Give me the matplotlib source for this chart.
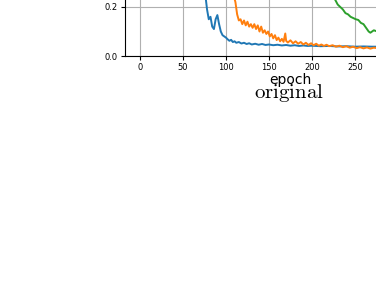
import matplotlib
matplotlib.use('Agg')
import matplotlib.pyplot as plt

plt.rcParams['mathtext.fontset'] = 'cm'

# loss curves (only the lower-right corner is visible)
blue_epoch = [60, 70, 76, 78, 80, 82, 84, 86, 88, 90, 92, 94, 96, 98, 100,
              102, 104, 106, 108, 110, 112, 115, 118, 121, 124, 127, 130, 134,
              138, 142, 146, 150, 155, 160, 165, 170, 175, 180, 185, 190, 195,
              200, 210, 220, 230, 240, 250, 260, 270, 280]
blue_loss = [0.60, 0.40, 0.25, 0.19, 0.15, 0.16, 0.12, 0.11, 0.15, 0.167,
             0.13, 0.10, 0.085, 0.08, 0.075, 0.068, 0.062, 0.066, 0.057,
             0.060, 0.054, 0.057, 0.051, 0.054, 0.049, 0.052, 0.047, 0.050,
             0.046, 0.049, 0.045, 0.047, 0.044, 0.046, 0.043, 0.045, 0.042,
             0.044, 0.041, 0.043, 0.041, 0.042, 0.040, 0.041, 0.039, 0.040,
             0.038, 0.039, 0.038, 0.038]

orange_epoch = [95, 108, 111, 113, 115, 117, 119, 121, 123, 125, 127, 129,
                131, 133, 135, 137, 139, 141, 143, 145, 147, 149, 151, 153,
                155, 157, 159, 161, 163, 165, 167, 169, 170, 172, 175, 178,
                181, 184, 187, 190, 193, 196, 199, 202, 205, 208, 211, 214,
                217, 220, 224, 228, 232, 236, 240, 244, 248, 252, 256, 260,
                264, 268, 272, 276]
orange_loss = [0.45, 0.26, 0.22, 0.17, 0.145, 0.15, 0.13, 0.145, 0.125, 0.14,
               0.12, 0.13, 0.115, 0.13, 0.11, 0.125, 0.10, 0.12, 0.095,
               0.105, 0.09, 0.10, 0.08, 0.09, 0.072, 0.085, 0.065, 0.075,
               0.06, 0.07, 0.058, 0.092, 0.062, 0.055, 0.064, 0.052, 0.060,
               0.050, 0.057, 0.047, 0.054, 0.045, 0.052, 0.044, 0.050, 0.042,
               0.047, 0.041, 0.046, 0.040, 0.044, 0.038, 0.042, 0.036, 0.040,
               0.034, 0.038, 0.032, 0.036, 0.031, 0.035, 0.030, 0.034, 0.032]

green_epoch = [210, 222, 227, 230, 233, 236, 239, 242, 245, 248, 251, 254,
               257, 260, 263, 266, 268, 270, 272, 276]
green_loss = [0.36, 0.26, 0.23, 0.21, 0.20, 0.19, 0.175, 0.17, 0.16, 0.155,
              0.15, 0.147, 0.135, 0.13, 0.115, 0.10, 0.095, 0.10, 0.105, 0.10]

xticks = [0, 50, 100, 150, 200, 250]
yticks = [0.0, 0.2]

fig = plt.figure(figsize=(3.76, 3.0), dpi=100)
# axes run past the top and right edge of the picture
ax = fig.add_axes([125/376, (300-56)/300, 330/376, 245/300])
ax.plot(blue_epoch, blue_loss, color='tab:blue', lw=1.4)
ax.plot(orange_epoch, orange_loss, color='tab:orange', lw=1.4)
ax.plot(green_epoch, green_loss, color='tab:green', lw=1.4)

ax.set_xlim(-17.45, 366.45)
ax.set_ylim(0, 1.0)
ax.set_xticks(xticks)
ax.set_yticks(yticks)
ax.grid(True, color='#b0b0b0', lw=0.8)
ax.set_axisbelow(True)
ax.tick_params(labelsize=6, length=3, pad=2)
ax.set_xlabel('epoch', fontsize=10, labelpad=1)

fig.text(289/376, 1 - 93/300, r'$\mathrm{original}$', fontsize=15,
         ha='center', va='center')

fig.savefig('out.png', dpi=100)
